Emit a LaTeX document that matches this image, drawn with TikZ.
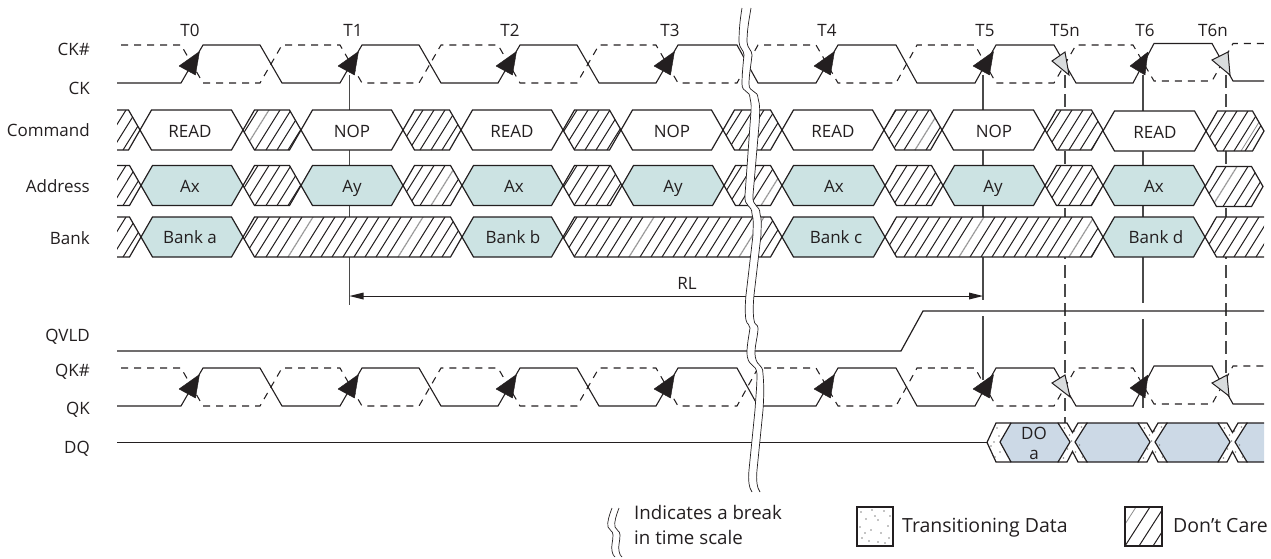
\documentclass[tikz,border=0pt]{standalone}
\usepackage{fontspec}
\setmainfont{Open Sans}
\definecolor{ink}{HTML}{231F20}
\definecolor{guide}{HTML}{4A4A4A}
\definecolor{teal}{HTML}{CCE3E3}
\definecolor{blueb}{HTML}{CCD9E6}
\definecolor{gtri}{HTML}{D9DCDD}
\definecolor{dots}{HTML}{8A8A8A}
\tikzset{
  wave/.style={draw=ink,line width=1.1pt,line join=miter},
  wavedash/.style={draw=ink,line width=1.05pt,dash pattern=on 7pt off 6pt},
  busline/.style={draw=ink,line width=1.2pt,line join=miter},
  hatchline/.style={draw=ink,line width=1pt},
  hatchgray/.style={draw=black!45,line width=.8pt},
  guideline/.style={draw=guide,line width=1.2pt},
  guidedash/.style={draw=guide,line width=1.1pt,dash pattern=on 13pt off 6pt},
  lab/.style={text=ink,font=\fontsize{17}{20}\selectfont,inner sep=0pt,anchor=base},
  rowlab/.style={lab,anchor=base east},
  legA/.style={lab,anchor=base west,font=\fontsize{18.7}{22}\selectfont},
  legB/.style={lab,anchor=base west,font=\fontsize{19.5}{22}\selectfont},
  blacktri/.style={fill=ink,draw=ink,line width=.4pt,line join=round},
  graytri/.style={fill=gtri,draw=ink,line width=1pt,line join=miter},
  breakline/.style={draw=ink,line width=.7pt},
}
% clock pair: top y, bottom y, top y after T6, bottom y after T6
\newcommand\clkpair[4]{%
  \draw[wave] (117,#2) -- (181,#2) -- (203,#1) -- (260,#1) -- (282,#2) -- (340,#2) -- (362,#1) -- (419,#1) -- (441,#2) -- (498,#2) -- (520,#1) -- (577,#1) -- (599,#2) -- (656,#2) -- (678,#1) -- (737,#1) -- (758,#2) -- (816,#2) -- (838,#1) -- (896,#1) -- (917,#2) -- (975,#2) -- (996,#1) -- (1054,#1) -- (1076,#2) -- (1133,#2) -- (1154,#3) -- (1212,#3) -- (1233,#4) -- (1264,#4);
  \draw[wavedash] (121,#1) -- (181,#1) -- (203,#2) -- (260,#2) -- (282,#1) -- (340,#1) -- (362,#2) -- (419,#2) -- (441,#1) -- (498,#1) -- (520,#2) -- (577,#2) -- (599,#1) -- (656,#1) -- (678,#2) -- (737,#2) -- (758,#1) -- (816,#1) -- (838,#2) -- (896,#2) -- (917,#1) -- (975,#1) -- (996,#2) -- (1054,#2) -- (1076,#1) -- (1133,#1) -- (1154,#4) -- (1212,#4) -- (1233,#3) -- (1264,#3);
}
\newcommand\risetri[2]{\filldraw[blacktri] ({#1+18.5},{#2-31.5}) -- ({#1-2},{#2-17}) -- ({#1+14.5},{#2-8}) -- cycle;}
% bus cells; current row is \T, \M, \B
\newcommand\hexp[2]{(#1,\M) -- ({#1+11.5},\T) -- ({#2-11.5},\T) -- (#2,\M) -- ({#2-11.5},\B) -- ({#1+11.5},\B) -- cycle}
\newcommand\hatchlines{%
  \foreach \k in {0,...,116}{\draw[hatchline] ({2+11*\k},\B) -- ++(25,{\T-\B});}
  \foreach \g in \grays{\draw[draw=white,line width=1.4pt] (\g,\B) -- ++(25,{\T-\B}); \draw[hatchgray] (\g,\B) -- ++(25,{\T-\B});}
}
\newcommand\cellplain[3]{\filldraw[busline,fill=#3] \hexp{#1}{#2};}
\newcommand\cellhatch[2]{%
  \begin{scope}\clip \hexp{#1}{#2}; \fill[white] \hexp{#1}{#2}; \hatchlines\end{scope}
  \draw[busline] \hexp{#1}{#2};}
\newcommand\stubleft[1]{%
  \begin{scope}\clip (117,\T) -- ({#1-11.5},\T) -- (#1,\M) -- ({#1-11.5},\B) -- (117,\B) -- cycle; \fill[white] (117,\T) rectangle (#1,\B); \hatchlines\end{scope}
  \draw[busline] (117,\T) -- ({#1-11.5},\T) -- (#1,\M) -- ({#1-11.5},\B) -- (117,\B);}
\newcommand\stubright[1]{%
  \begin{scope}\clip (1264,\T) -- ({#1+11.5},\T) -- (#1,\M) -- ({#1+11.5},\B) -- (1264,\B) -- cycle; \fill[white] (#1,\T) rectangle (1264,\B); \hatchlines\end{scope}
  \draw[busline] (1264,\T) -- ({#1+11.5},\T) -- (#1,\M) -- ({#1+11.5},\B) -- (1264,\B);}
% stipple on the X-shaped crossing
\newcommand\xdots[1]{%
  \foreach \dx/\dy in {-8/428,-3/435,2/431,9/427,-5/449,3/452,7/445,-9/458,10/457,-1/441}{\fill[dots] ({#1+\dx},\dy) circle (.95);}
  \draw[busline] ({#1-15},423) -- ({#1-5.5},423) -- (#1,432.5) -- ({#1+5.5},423) -- ({#1+15},423);
  \draw[busline] ({#1-15},462) -- ({#1-5.5},462) -- (#1,451.5) -- ({#1+5.5},462) -- ({#1+15},462);
}
\newcommand\breakL{(742,8) .. controls (740,20) and (739,30) .. (739,42) .. controls (739,48) and (744,50) .. (744,55) .. controls (743,65) and (742,75) .. (742,84) .. controls (742,93) and (750,90) .. (750,98) .. controls (752,105) and (751,110) .. (750,125) -- (745,195) .. controls (744,208) and (752,204) .. (752,214) .. controls (754,220) and (753,225) .. (753,235) -- (748,278) -- (746,295) .. controls (745,305) and (745,315) .. (746,320) .. controls (747,325) and (750,324) .. (750,328) .. controls (749,335) and (747,345) .. (747,352) .. controls (747,368) and (756,362) .. (757,374) .. controls (757,385) and (756,395) .. (755,410) -- (749,470) .. controls (748,480) and (749,488) .. (752,492)}
\newcommand\breakR{(760,492) .. controls (757,488) and (756,480) .. (757,470) -- (763,410) .. controls (764,395) and (764,385) .. (763,374) .. controls (763,362) and (755,368) .. (755,352) .. controls (755,345) and (758,335) .. (758,328) .. controls (758,324) and (754,325) .. (754,320) .. controls (753,315) and (753,305) .. (754,295) -- (756,278) -- (761,235) .. controls (761,225) and (762,220) .. (760,214) .. controls (760,204) and (752,208) .. (753,195) -- (759,125) .. controls (760,110) and (760,105) .. (758,98) .. controls (758,90) and (749,93) .. (749,84) .. controls (749,75) and (751,65) .. (752,55) .. controls (752,50) and (747,48) .. (747,42) .. controls (747,30) and (749,20) .. (751,8)}
\begin{document}
\begin{tikzpicture}[x=1pt,y=-1pt]
\useasboundingbox (0,0) rectangle (1271,558);
% guide lines
\coordinate (gt1a) at (349.5,75); \coordinate (gt1b) at (349.5,305);
\coordinate (gt5a) at (983,75); \coordinate (gt5b) at (983,300); \coordinate (gt5c) at (983,316); \coordinate (gt5d) at (983,380);
\coordinate (gt6a) at (1143,75); \coordinate (gt6b) at (1143,303); \coordinate (gt6c) at (1143,319); \coordinate (gt6d) at (1143,408);
\coordinate (gn5a) at (1065,75); \coordinate (gn5b) at (1065,423);
\coordinate (gn6a) at (1226,75); \coordinate (gn6b) at (1226,377);
\draw[guideline] (gt1a) -- (gt1b);
\draw[guideline] (gt5a) -- (gt5b); \draw[guideline] (gt5c) -- (gt5d);
\draw[guideline] (gt6a) -- (gt6b); \draw[guideline] (gt6c) -- (gt6d);
\draw[guidedash] (gn5a) -- (gn5b);
\draw[guidedash] (gn6a) -- (gn6b);
% clocks
\clkpair{45}{83}{43.5}{81}
\clkpair{368}{406}{366}{404}
\foreach \x in {181,340,498,656,816,975}{\risetri{\x}{83}\risetri{\x}{406}}
\filldraw[blacktri] (1148,52) -- (1130,66) -- (1145,75) -- cycle;
\filldraw[blacktri] (1148,375) -- (1130,388) -- (1145,398) -- cycle;
\filldraw[graytri] (1065,52) -- (1052,61) -- (1069,75) -- cycle;
\filldraw[graytri] (1228,52) -- (1212,60) -- (1230,75) -- cycle;
\filldraw[graytri] (1065,375) -- (1052,383) -- (1070,397) -- cycle;
\filldraw[graytri] (1227,375) -- (1212,383) -- (1229,396) -- cycle;
% Command
\def\T{110}\def\M{130}\def\B{150}\def\grays{244,915}
\stubleft{140}
\cellplain{140}{243}{white}\cellhatch{243}{301}\cellplain{301}{403}{white}\cellhatch{403}{461}
\cellplain{461}{563}{white}\cellhatch{563}{621}\cellplain{621}{723}{white}\cellhatch{723}{782}
\cellplain{782}{884}{white}\cellhatch{884}{942}\cellplain{942}{1045}{white}\cellhatch{1045}{1103}
\def\T{111}\def\M{131}\def\B{151}\def\grays{1241}
\cellplain{1103}{1206}{white}\cellhatch{1206}{1264}
% Address
\def\T{165.5}\def\M{185.5}\def\B{205.5}\def\grays{431,761,871}
\stubleft{141}
\cellplain{141}{243}{teal}\cellhatch{243}{301}\cellplain{301}{403}{teal}\cellhatch{403}{462}
\cellplain{462}{563}{teal}\cellhatch{563}{622}\cellplain{622}{724}{teal}\cellhatch{724}{782}
\cellplain{782}{885}{teal}\cellhatch{885}{943}\cellplain{943}{1045}{teal}\cellhatch{1045}{1103}
\cellplain{1103}{1205}{teal}
\def\T{166.5}\def\M{186.5}\def\B{206.5}\def\grays{1212}
\cellhatch{1205}{1263}
% Bank
\def\T{217}\def\M{237}\def\B{257}\def\grays{288,398,629,739,959,1069}
\stubleft{141}
\cellplain{141}{243}{teal}\cellhatch{243}{462}\cellplain{462}{563}{teal}\cellhatch{563}{782}
\cellplain{782}{885}{teal}\cellhatch{885}{1103}\cellplain{1103}{1205}{teal}
\stubright{1205}
% RL
\coordinate (rla) at (349.5,296); \coordinate (rlb) at (983,296);
\draw[draw=ink,line width=.9pt] ([xshift=10pt]rla) -- ([xshift=-10pt]rlb);
\fill[ink] (rla) -- ++(14,-3.5) -- ++(0,7) -- cycle;
\fill[ink] (rlb) -- ++(-14,-3.5) -- ++(0,7) -- cycle;
% QVLD
\draw[draw=ink,line width=1.2pt] (117,351) -- (901,351) -- (923,311) -- (1264,311);
% DQ
\coordinate (dqs) at (117,442.4); \coordinate (dqa) at (987,442.4);
\draw[draw=ink,line width=.95pt] (dqs) -- (dqa);
\foreach \x/\y in {997/428,999/436,994/442,1000/452,995/457,991/446}{\fill[dots] (\x,\y) circle (.95);}
\draw[busline] (1011,423) -- (996,423) -- (dqa) -- (996,462) -- (1011,462);
\filldraw[busline,fill=blueb] (1000,442) -- (1011,423) -- (1058,423) -- (1070,442) -- (1058,462) -- (1011,462) -- cycle;
\filldraw[busline,fill=blueb] (1075,442) -- (1087,423) -- (1138,423) -- (1150,442) -- (1138,462) -- (1087,462) -- cycle;
\filldraw[busline,fill=blueb] (1155,442) -- (1167,423) -- (1218,423) -- (1230,442) -- (1218,462) -- (1167,462) -- cycle;
\fill[blueb] (1235,442) -- (1247,423) -- (1264,423) -- (1264,462) -- (1247,462) -- cycle;
\draw[busline] (1264,423) -- (1247,423) -- (1235,442) -- (1247,462) -- (1264,462);
\xdots{1072.5}\xdots{1152.5}\xdots{1232.5}
% break
\fill[white] \breakL -- \breakR -- cycle;
\draw[breakline] \breakL;
\draw[breakline] \breakR;
% time labels
\node[lab] (t0) at (190,36) {T0};
\node[lab] (t1) at (353,36) {T1};
\node[lab] (t2) at (510,36) {T2};
\node[lab] (t3) at (670,36) {T3};
\node[lab] (t4) at (827,36) {T4};
\node[lab] (t5) at (985,36) {T5};
\node[lab] (t5n) at (1065,36) {T5n};
\node[lab] (t6) at (1145,36) {T6};
\node[lab] (t6n) at (1213,36) {T6n};
% row labels
\node[rowlab] (lck1) at (90,55.5) {CK\#};
\node[rowlab] (lck) at (90,94) {CK};
\node[rowlab] (lcmd) at (90,136) {Command};
\node[rowlab] (ladr) at (90,192) {Address};
\node[rowlab] (lbnk) at (90,244.5) {Bank};
\node[rowlab] (lqv) at (90,341.5) {QVLD};
\node[rowlab] (lqk1) at (90,376.5) {QK\#};
\node[rowlab] (lqk) at (90,414) {QK};
\node[rowlab] (ldq) at (90,453) {DQ};
% bus texts
\node[lab] (c0) at (190,137) {READ};
\node[lab] (c1) at (352,137) {NOP};
\node[lab] (c2) at (512,137) {READ};
\node[lab] (c3) at (672,137) {NOP};
\node[lab] (c4) at (833,137) {READ};
\node[lab] (c5) at (994,137) {NOP};
\node[lab] (c6) at (1155,138) {READ};
\node[lab] (a0) at (190,192) {Ax};
\node[lab] (a1) at (352,192) {Ay};
\node[lab] (a2) at (514,192) {Ax};
\node[lab] (a3) at (673,192) {Ay};
\node[lab] (a4) at (834,192) {Ax};
\node[lab] (a5) at (993,192) {Ay};
\node[lab] (a6) at (1154,192) {Ax};
\node[lab] (b0) at (190,243) {Bank a};
\node[lab] (b1) at (513,243) {Bank b};
\node[lab] (b2) at (836,243) {Bank c};
\node[lab] (b3) at (1156,243) {Bank d};
\node[lab] (rl) at (687,289) {RL};
\node[lab] (do1) at (1034,439) {DO};
\node[lab] (do2) at (1034,459) {a};
% legend
\draw[breakline] (612,508) .. controls (609,516) and (607,522) .. (608,527) .. controls (609,531) and (613,530) .. (613,535) .. controls (613,541) and (611,546) .. (612,551) .. controls (612,554) and (614,556) .. (615,557);
\draw[breakline] (619,508) .. controls (616,516) and (614,522) .. (615,527) .. controls (616,531) and (620,530) .. (620,535) .. controls (620,541) and (618,546) .. (619,551) .. controls (619,554) and (621,556) .. (622,557);
\node[legA] (lg1) at (634,519) {Indicates a break};
\node[legA] (lg2) at (634,544) {in time scale};
\draw[draw=ink,line width=1.1pt] (857,507) rectangle (893,546);
\foreach \x/\y in {861/512,872/510,884/511,890/516,866/519,878/520,888/526,860/527,871/530,881/533,862/538,869/541,878/542,889/538,875/516,865/533,885/543}{\fill[dots] (\x,\y) circle (.85);}
\node[legB] (lg3) at (902,532) {Transitioning Data};
\begin{scope}
\clip (1125,507) rectangle (1162,546);
\foreach \x in {1125,1139,1153}{\draw[hatchline] (\x,546) -- ++(25,-39);}
\draw[hatchgray] (1111,546) -- ++(25,-39);
\end{scope}
\draw[draw=ink,line width=1.1pt] (1125,507) rectangle (1162,546);
\node[legB] (lg4) at (1173,532) {Don’t Care};
\end{tikzpicture}
\end{document}
